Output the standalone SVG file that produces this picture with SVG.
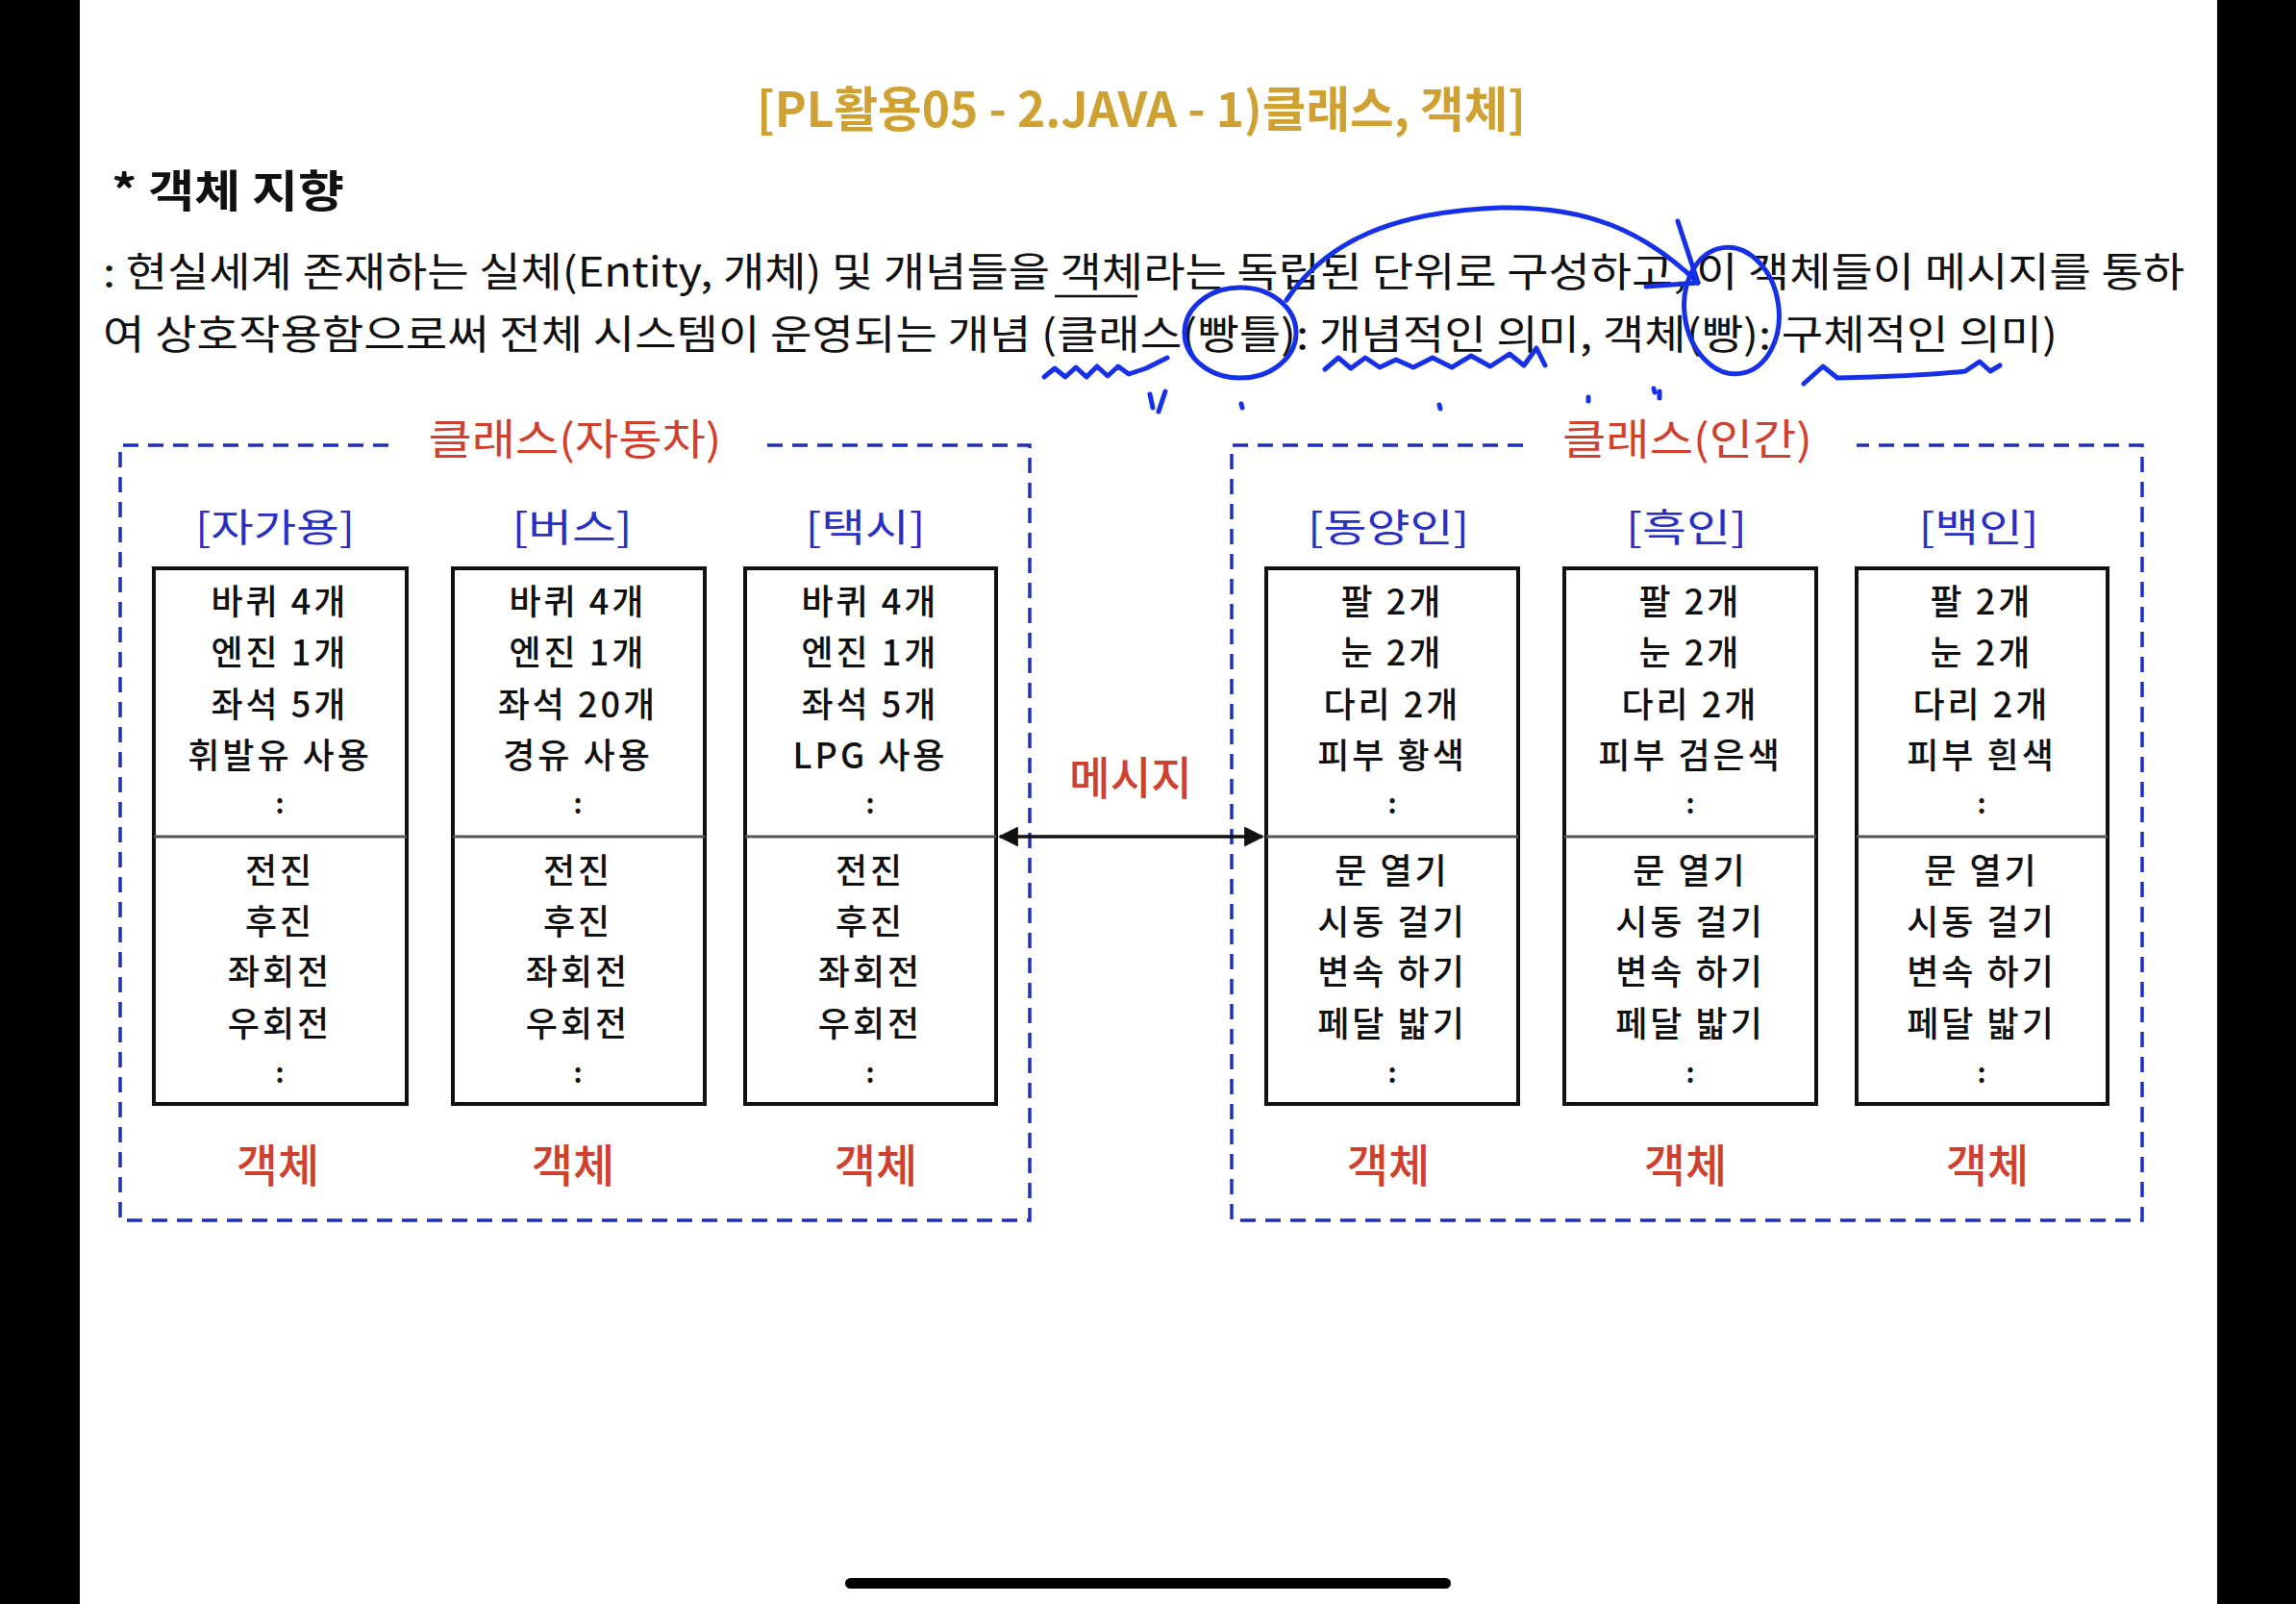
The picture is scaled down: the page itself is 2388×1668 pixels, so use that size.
<svg xmlns="http://www.w3.org/2000/svg" width="2388" height="1668" viewBox="0 0 2388 1668">
<style>
.kr{font-family:"Noto Sans CJK KR","Noto Sans",sans-serif}
.title{font-size:50px;font-weight:700;fill:#CFA032}
.head{font-size:46px;font-weight:700;fill:#111}
.para{font-size:42px;fill:#111}
.grp{font-size:44px;fill:#D0402E;text-anchor:middle}
.sub{font-size:40px;fill:#2A2FC4;text-anchor:middle}
.item{font-size:36px;font-weight:500;fill:#111;text-anchor:middle;letter-spacing:3px}
.col{font-size:28px;font-weight:700;fill:#111;text-anchor:middle}
.obj{font-size:47px;font-weight:500;fill:#D0402E;text-anchor:middle}
.dash{fill:none;stroke:#1E2FC0;stroke-width:3.5;stroke-dasharray:16 10}
.box{fill:#fff;stroke:#111;stroke-width:4}
.div{stroke:#555;stroke-width:3}
.pen{fill:none;stroke:#1530E6;stroke-width:5;stroke-linecap:round;stroke-linejoin:round}
</style>
<defs>
<marker id="ah" viewBox="0 0 10 10" refX="9" refY="5" markerWidth="6" markerHeight="6" orient="auto-start-reverse" markerUnits="strokeWidth">
<path d="M0,0 L10,5 L0,10 Z" fill="#111"/>
</marker>
</defs>
<rect x="0" y="0" width="2388" height="1668" fill="#fff"/>
<rect x="0" y="0" width="83" height="1668" fill="#000"/>
<rect x="2306" y="0" width="82" height="1668" fill="#000"/>
<rect x="879" y="1641" width="630" height="11" rx="5.5" fill="#000"/>

<g id="header">
<text class="kr title" x="787" y="132" textLength="800" lengthAdjust="spacingAndGlyphs">[PL활용05 - 2.JAVA - 1)클래스, 객체]</text>
<text class="kr head" x="116" y="215" textLength="242" lengthAdjust="spacingAndGlyphs">* 객체 지향</text>
<text class="kr para" x="107" y="298" textLength="2165" lengthAdjust="spacingAndGlyphs">: 현실세계 존재하는 실체(Entity, 개체) 및 개념들을 객체라는 독립된 단위로 구성하고, 이 객체들이 메시지를 통하</text>
<line x1="1097" y1="308" x2="1183" y2="308" stroke="#111" stroke-width="2.5"/>
<text class="kr para" x="107" y="363" textLength="2033" lengthAdjust="spacingAndGlyphs">여 상호작용함으로써 전체 시스템이 운영되는 개념 (클래스(빵틀): 개념적인 의미, 객체(빵): 구체적인 의미)</text>
</g>

<g id="annotations">
<ellipse class="pen" cx="1290" cy="346" rx="58" ry="47"/>
<ellipse class="pen" cx="1801" cy="323" rx="49" ry="66" transform="rotate(-8 1801 323)"/>
<path class="pen" d="M1338,312 C1380,250 1450,220 1560,216 C1650,214 1710,240 1766,294"/>
<path class="pen" d="M1745,230 L1766,294 L1712,298"/>
<path class="pen" d="M1086,392 L1097,383 L1108,392 L1119,382 L1130,392 L1141,381 L1152,391 L1163,381 L1174,389 L1192,383 L1214,372"/>
<path class="pen" d="M1378,384 L1392,372 L1405,383 L1420,372 L1435,382 L1452,374 L1470,382 L1490,372 L1510,382 L1530,370 L1550,381 L1570,368 L1585,380 L1598,362 L1607,380"/>
<path class="pen" d="M1876,399 L1896,381 L1911,393 C1960,392 2010,390 2044,386 L2059,376 L2070,386 L2080,380"/>
<path class="pen" d="M1196,410 L1199,424 M1212,407 L1205,428"/>
<path class="pen" d="M1291,420 L1292,424"/>
<path class="pen" d="M1497,421 L1498,425"/>
<path class="pen" d="M1652,413 L1652,417"/>
<path class="pen" d="M1720,404 L1721,408 M1726,407 L1726,414"/>
</g>

<g id="class-car">
<path class="dash" d="M404,463 L125,463 L125,1269 L1071,1269 L1071,463 L795,463"/>
<text class="kr grp" x="598" y="473" textLength="305" lengthAdjust="spacingAndGlyphs">클래스(자동차)</text>
</g>
<g id="class-human">
<path class="dash" d="M1584,463 L1281,463 L1281,1269 L2228,1269 L2228,463 L1931,463"/>
<text class="kr grp" x="1755" y="473" textLength="260" lengthAdjust="spacingAndGlyphs">클래스(인간)</text>
</g>

<g id="obj-private-car">
<text class="kr sub" x="286" y="563" textLength="166" lengthAdjust="spacingAndGlyphs">[자가용]</text>
<rect class="box" x="160" y="591" width="263" height="557"/>
<line class="div" x1="160" y1="870" x2="423" y2="870"/>
<text class="kr item" x="291" y="639">바퀴 4개</text>
<text class="kr item" x="291" y="692">엔진 1개</text>
<text class="kr item" x="291" y="746">좌석 5개</text>
<text class="kr item" x="291" y="799">휘발유 사용</text>
<text class="kr col" x="291" y="846">:</text>
<text class="kr item" x="291" y="919">전진</text>
<text class="kr item" x="291" y="972">후진</text>
<text class="kr item" x="291" y="1024">좌회전</text>
<text class="kr item" x="291" y="1078">우회전</text>
<text class="kr col" x="291" y="1126">:</text>
<text class="kr obj" x="289" y="1229">객체</text>
</g>

<g id="obj-bus">
<text class="kr sub" x="595" y="563" textLength="125" lengthAdjust="spacingAndGlyphs">[버스]</text>
<rect class="box" x="471" y="591" width="262" height="557"/>
<line class="div" x1="471" y1="870" x2="733" y2="870"/>
<text class="kr item" x="601" y="639">바퀴 4개</text>
<text class="kr item" x="601" y="692">엔진 1개</text>
<text class="kr item" x="601" y="746">좌석 20개</text>
<text class="kr item" x="601" y="799">경유 사용</text>
<text class="kr col" x="601" y="846">:</text>
<text class="kr item" x="601" y="919">전진</text>
<text class="kr item" x="601" y="972">후진</text>
<text class="kr item" x="601" y="1024">좌회전</text>
<text class="kr item" x="601" y="1078">우회전</text>
<text class="kr col" x="601" y="1126">:</text>
<text class="kr obj" x="596" y="1229">객체</text>
</g>

<g id="obj-taxi">
<text class="kr sub" x="900" y="563" textLength="125" lengthAdjust="spacingAndGlyphs">[택시]</text>
<rect class="box" x="775" y="591" width="261" height="557"/>
<line class="div" x1="775" y1="870" x2="1036" y2="870"/>
<text class="kr item" x="905" y="639">바퀴 4개</text>
<text class="kr item" x="905" y="692">엔진 1개</text>
<text class="kr item" x="905" y="746">좌석 5개</text>
<text class="kr item" x="905" y="799">LPG 사용</text>
<text class="kr col" x="905" y="846">:</text>
<text class="kr item" x="905" y="919">전진</text>
<text class="kr item" x="905" y="972">후진</text>
<text class="kr item" x="905" y="1024">좌회전</text>
<text class="kr item" x="905" y="1078">우회전</text>
<text class="kr col" x="905" y="1126">:</text>
<text class="kr obj" x="911" y="1229">객체</text>
</g>

<g id="obj-asian">
<text class="kr sub" x="1444" y="563" textLength="168" lengthAdjust="spacingAndGlyphs">[동양인]</text>
<rect class="box" x="1317" y="591" width="262" height="557"/>
<line class="div" x1="1317" y1="870" x2="1579" y2="870"/>
<text class="kr item" x="1448" y="639">팔 2개</text>
<text class="kr item" x="1448" y="692">눈 2개</text>
<text class="kr item" x="1448" y="746">다리 2개</text>
<text class="kr item" x="1448" y="799">피부 황색</text>
<text class="kr col" x="1448" y="846">:</text>
<text class="kr item" x="1448" y="919">문 열기</text>
<text class="kr item" x="1448" y="972">시동 걸기</text>
<text class="kr item" x="1448" y="1024">변속 하기</text>
<text class="kr item" x="1448" y="1078">페달 밟기</text>
<text class="kr col" x="1448" y="1126">:</text>
<text class="kr obj" x="1444" y="1229">객체</text>
</g>

<g id="obj-black">
<text class="kr sub" x="1754" y="563" textLength="126" lengthAdjust="spacingAndGlyphs">[흑인]</text>
<rect class="box" x="1627" y="591" width="262" height="557"/>
<line class="div" x1="1627" y1="870" x2="1889" y2="870"/>
<text class="kr item" x="1758" y="639">팔 2개</text>
<text class="kr item" x="1758" y="692">눈 2개</text>
<text class="kr item" x="1758" y="746">다리 2개</text>
<text class="kr item" x="1758" y="799">피부 검은색</text>
<text class="kr col" x="1758" y="846">:</text>
<text class="kr item" x="1758" y="919">문 열기</text>
<text class="kr item" x="1758" y="972">시동 걸기</text>
<text class="kr item" x="1758" y="1024">변속 하기</text>
<text class="kr item" x="1758" y="1078">페달 밟기</text>
<text class="kr col" x="1758" y="1126">:</text>
<text class="kr obj" x="1753" y="1229">객체</text>
</g>

<g id="obj-white">
<text class="kr sub" x="2058" y="563" textLength="125" lengthAdjust="spacingAndGlyphs">[백인]</text>
<rect class="box" x="1931" y="591" width="261" height="557"/>
<line class="div" x1="1931" y1="870" x2="2192" y2="870"/>
<text class="kr item" x="2061" y="639">팔 2개</text>
<text class="kr item" x="2061" y="692">눈 2개</text>
<text class="kr item" x="2061" y="746">다리 2개</text>
<text class="kr item" x="2061" y="799">피부 흰색</text>
<text class="kr col" x="2061" y="846">:</text>
<text class="kr item" x="2061" y="919">문 열기</text>
<text class="kr item" x="2061" y="972">시동 걸기</text>
<text class="kr item" x="2061" y="1024">변속 하기</text>
<text class="kr item" x="2061" y="1078">페달 밟기</text>
<text class="kr col" x="2061" y="1126">:</text>
<text class="kr obj" x="2067" y="1229">객체</text>
</g>

<g id="connectors">
<line x1="1040" y1="870" x2="1313" y2="870" stroke="#111" stroke-width="3.5" marker-start="url(#ah)" marker-end="url(#ah)"/>
<text class="kr obj" x="1176" y="826" textLength="128" lengthAdjust="spacingAndGlyphs">메시지</text>
</g>
</svg>
